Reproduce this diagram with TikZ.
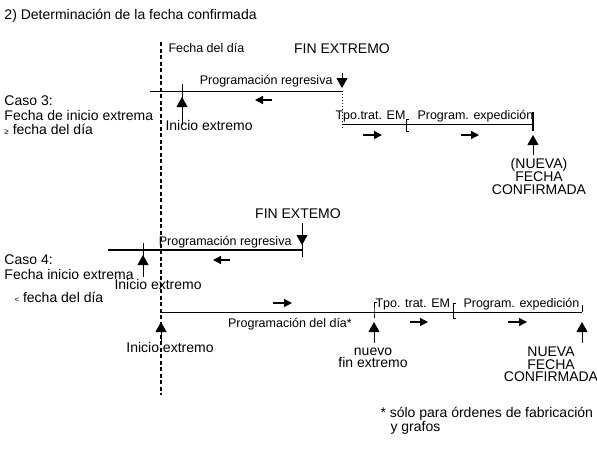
\documentclass[tikz,border=0pt]{standalone}
\usepackage{fontspec}
\setmainfont{Liberation Sans}
\usetikzlibrary{arrows.meta}
\begin{document}
\begin{tikzpicture}[x=1pt, y=-1pt, line width=1pt, font=\fontsize{14}{14.6}\selectfont,
  lbl/.style={inner sep=0pt, anchor=base west},
  lblc/.style={inner sep=0pt, anchor=base},
  pila/.style={inner sep=0pt, anchor=north, align=center, font=\fontsize{14}{12.6}\selectfont},
  chico/.style={font=\fontsize{12.5}{14}\selectfont},
  eje/.style={line width=1pt},
  ejeg/.style={line width=1.8pt},
  hoyline/.style={line width=1.8pt, dash pattern=on 4pt off 2.5pt},
  hito/.style={-{Triangle[width=11pt,length=10pt]}, line width=1pt},
  sentido/.style={-{Triangle[width=8pt,length=8pt]}, line width=1.3pt}]
\useasboundingbox (0,0) rectangle (597,448);

\node[lbl] (titulo) at (4,19) {2) Determinación de la fecha confirmada};

% fecha del dia
\coordinate (hoyA) at (161,42);
\coordinate (hoyB) at (161,395);
\draw[hoyline] (hoyA) -- (hoyB);
\node[lbl, chico] (hoytxt) at (168,52.5) {Fecha del día};

% caso 3
\node[lbl, anchor=north west, align=left] (caso3) at (4,95.5)
{Caso 3:\\Fecha de inicio extrema\\{\fontsize{8}{8}\selectfont ≥} fecha del día};

\node[lblc] (fin3) at (342,53) {FIN EXTREMO};
\coordinate (c3ini) at (150,91);
\coordinate (c3fin) at (342,91);
\coordinate (fin3top) at (342,73);
\coordinate (fin3tip) at (342,88);
\draw[eje] (c3ini) -- (c3fin);
\draw[hito] (fin3top) -- (fin3tip);
\node[lbl, chico, anchor=base east] (regr3) at (333,84.5) {Programación regresiva};
\coordinate (izq3a) at (272,100);
\coordinate (izq3b) at (255,100);
\draw[sentido] (izq3a) -- (izq3b);

\coordinate (ini3top) at (182,84);
\coordinate (ini3bot) at (182,125);
\coordinate (ini3tip) at (182,97);
\draw[eje] (ini3top) -- (ini3bot);
\draw[hito] (ini3bot) -- (ini3tip);
\node[lbl] (ini3txt) at (165,130) {Inicio extremo};

\coordinate (c3em) at (342,124);
\coordinate (c3dot) at (342,130);
\coordinate (c3exp) at (406,124);
\coordinate (c3conf) at (533,124);
\draw[dotted] (c3fin) -- (c3dot);
\draw[eje] (c3em) -- (c3conf);
\draw[eje] ([xshift=2.5pt]c3exp |- 0,119) -| (406,131) -- ++(2.5,0);
\draw[line width=1.6pt] (533,112) -- (533,131);
\node[lbl, chico] (tpo3) at (335,119) {Tpo.trat. EM};
\node[lbl, chico] (exp3) at (417,119) {Program. expedición};
\coordinate (der3a) at (363,135);
\coordinate (der3b) at (382,135);
\coordinate (der3c) at (461,135);
\coordinate (der3d) at (479,135);
\draw[sentido] (der3a) -- (der3b);
\draw[sentido] (der3c) -- (der3d);

\coordinate (conf3bot) at (533,155);
\coordinate (conf3tip) at (533,135);
\draw[hito] (conf3bot) -- (conf3tip);
\node[pila] (conf3txt) at (539,157.5) {(NUEVA)\\FECHA\\CONFIRMADA};

% caso 4
\node[lbl, anchor=north west, align=left] (caso4) at (4,254.5)
{Caso 4:\\Fecha inicio extrema};
\node[lbl] (caso4b) at (14,302) {{\fontsize{8}{8}\selectfont <} fecha del día};

\node[lblc] (fin4) at (298,218) {FIN EXTEMO};
\coordinate (c4ini) at (108,250);
\coordinate (c4fin) at (302,250);
\coordinate (fin4top) at (302,223);
\coordinate (fin4bot) at (302,257);
\coordinate (fin4tip) at (302,245);
\draw[ejeg] (c4ini) -- (c4fin);
\draw[eje] (fin4top) -- (fin4bot);
\draw[hito] (fin4top) -- (fin4tip);
\node[lbl, chico, anchor=base east] (regr4) at (292,245.5) {Programación regresiva};
\coordinate (izq4a) at (230,260);
\coordinate (izq4b) at (213,260);
\draw[sentido] (izq4a) -- (izq4b);

\coordinate (ini4top) at (143,243);
\coordinate (ini4bot) at (143,277);
\coordinate (ini4tip) at (143,255);
\draw[eje] (ini4top) -- (ini4bot);
\draw[hito] (ini4bot) -- (ini4tip);
\node[lbl] (ini4txt) at (114,289.5) {Inicio extremo};

% programacion del dia
\coordinate (c5ini) at (161,312);
\coordinate (c5em) at (374,312);
\coordinate (c5exp) at (453,312);
\coordinate (c5conf) at (582,312);
\draw[eje] (c5ini) -- (c5conf);
\draw[eje] (376.5,302) -| (c5em) -- ++(0,6);
\draw[eje] (455.5,303) -| (453,318) -- ++(2.5,0);
\draw[eje] (582,305) -- (c5conf);
\coordinate (der5a) at (273,303);
\coordinate (der5b) at (292,303);
\draw[sentido] (der5a) -- (der5b);
\node[lblc, chico] (dia) at (290,327.5) {Programación del día*};
\node[lbl, chico] (tpo5) at (375,307) {Tpo. trat. EM};
\node[lbl, chico] (exp5) at (463,307) {Program. expedición};
\coordinate (der5c) at (410,322);
\coordinate (der5d) at (428,322);
\coordinate (der5e) at (508,322);
\coordinate (der5f) at (527,322);
\draw[sentido] (der5c) -- (der5d);
\draw[sentido] (der5e) -- (der5f);

\coordinate (ini5bot) at (161,341);
\coordinate (ini5tip) at (161,322);
\draw[hito] (ini5bot) -- (ini5tip);
\node[lblc] (ini5txt) at (170,352) {Inicio extremo};

\coordinate (nfin5bot) at (374,343);
\coordinate (nfin5tip) at (374,322);
\draw[hito] (nfin5bot) -- (nfin5tip);
\node[pila] (nfin5txt) at (373,347) {nuevo\\fin extremo};

\coordinate (conf5bot) at (582,343);
\coordinate (conf5tip) at (582,322);
\draw[hito] (conf5bot) -- (conf5tip);
\node[pila] (conf5txt) at (551,346.5) {NUEVA\\FECHA\\CONFIRMADA};

\node[lbl, anchor=north west, align=left, font=\fontsize{14}{13}\selectfont] (nota) at (380,407)
{* sólo para órdenes de fabricación\\\hspace*{10pt}y grafos};
\end{tikzpicture}
\end{document}
